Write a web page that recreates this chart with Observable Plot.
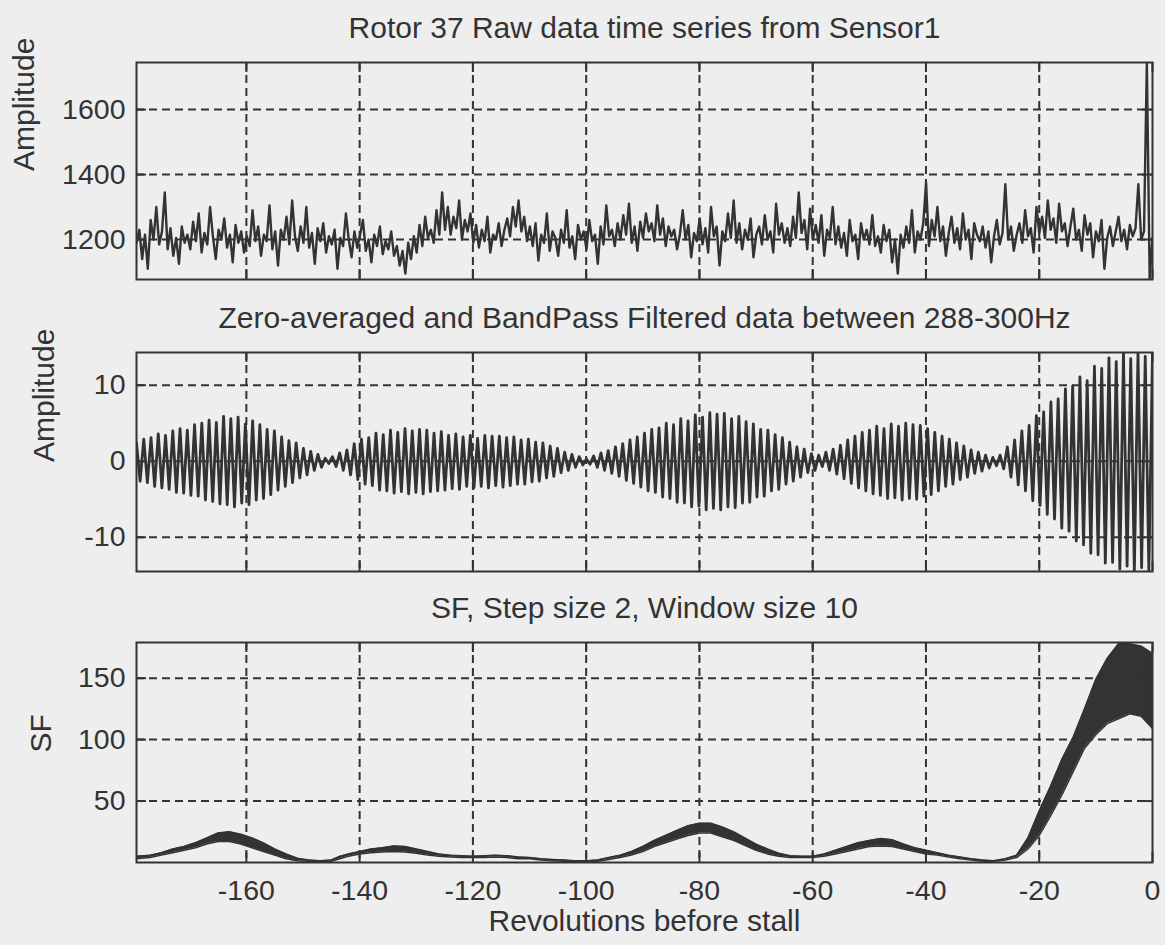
<!DOCTYPE html>
<html>
<head>
<meta charset="utf-8">
<script src="https://cdn.jsdelivr.net/npm/d3@7"></script>
<script src="https://cdn.jsdelivr.net/npm/@observablehq/plot@0.6"></script>
<style>
  html, body { margin: 0; padding: 0; background: #eeeeee; }
  #fig { position: relative; width: 1165px; height: 945px; background: #eeeeee; overflow: hidden; }
  #fig svg { position: absolute; left: 0; display: block; }
</style>
</head>
<body>
<div id="fig"></div>
<script>
const ink = "#333333";
const FONT = "'Liberation Sans', Arial, Helvetica, sans-serif";

// Shared x axis: revolutions before stall
const revStart = -179.4;
const revEnd = 0;
const revTicks = [-160, -140, -120, -100, -80, -60, -40, -20, 0];

const titles = [
  "Rotor 37 Raw data time series from Sensor1",
  "Zero-averaged and BandPass Filtered data between 288-300Hz",
  "SF, Step size 2, Window size 10"
];
const yLabels = ["Amplitude", "Amplitude", "SF"];
const xLabel = "Revolutions before stall";

// Panel 1: raw sensor samples, evenly spaced from revStart to revEnd
const rawAmplitude = [
  1190, 1230, 1140, 1215, 1110, 1260, 1200, 1300, 1185, 1225,
  1345, 1170, 1235, 1150, 1205, 1125, 1240, 1190, 1215, 1170,
  1255, 1195, 1280, 1160, 1220, 1185, 1300, 1210, 1140, 1230,
  1200, 1265, 1175, 1215, 1130, 1245, 1190, 1225, 1160, 1210,
  1180, 1290, 1195, 1240, 1150, 1215, 1195, 1305, 1170, 1225,
  1120, 1230, 1200, 1270, 1185, 1320, 1210, 1165, 1240, 1190,
  1300, 1175, 1220, 1125, 1235, 1195, 1250, 1160, 1210, 1185,
  1230, 1110, 1205, 1180, 1280, 1200, 1145, 1225, 1175, 1215,
  1260, 1165, 1200, 1130, 1215, 1180, 1240, 1155, 1195, 1170,
  1225, 1150, 1180, 1120, 1165, 1095, 1190, 1140, 1210, 1160,
  1245, 1180, 1270, 1205, 1230, 1190, 1290, 1215, 1345, 1230,
  1300, 1215, 1270, 1235, 1320, 1200, 1260, 1225, 1280, 1190,
  1245, 1175, 1230, 1195, 1270, 1160, 1215, 1200, 1250, 1180,
  1230, 1265, 1210, 1300, 1240, 1320, 1225, 1270, 1195, 1240,
  1180, 1250, 1135, 1215, 1190, 1280, 1165, 1225, 1205, 1150,
  1230, 1190, 1290, 1175, 1210, 1140, 1245, 1200, 1225, 1170,
  1260, 1195, 1215, 1125, 1240, 1185, 1305, 1210, 1230, 1180,
  1250, 1200, 1275, 1215, 1310, 1190, 1240, 1165, 1255, 1205,
  1280, 1225, 1250, 1195, 1305, 1215, 1265, 1180, 1240, 1210,
  1230, 1170, 1215, 1290, 1200, 1245, 1145, 1220, 1195, 1265,
  1185, 1235, 1160, 1300, 1210, 1240, 1120, 1225, 1195, 1280,
  1205, 1320, 1190, 1250, 1170, 1230, 1200, 1265, 1145, 1215,
  1240, 1185, 1275, 1200, 1225, 1160, 1310, 1215, 1250, 1190,
  1235, 1180, 1270, 1205, 1345, 1220, 1260, 1170, 1295, 1200,
  1245, 1190, 1275, 1150, 1230, 1205, 1300, 1185, 1240, 1175,
  1220, 1150, 1260, 1195, 1215, 1140, 1250, 1200, 1230, 1185,
  1275, 1180, 1210, 1160, 1245, 1195, 1230, 1130, 1200, 1095,
  1215, 1175, 1240, 1190, 1290, 1160, 1225, 1200, 1250, 1375,
  1180, 1260, 1210, 1300, 1195, 1240, 1150, 1220, 1270, 1190,
  1235, 1170, 1280, 1200, 1230, 1140, 1250, 1215, 1195, 1240,
  1175, 1225, 1130, 1210, 1260, 1185, 1220, 1370, 1200, 1240,
  1165, 1215, 1250, 1190, 1290, 1210, 1235, 1160, 1300, 1220,
  1270, 1205, 1320, 1230, 1265, 1190, 1310, 1225, 1250, 1180,
  1240, 1295, 1200, 1230, 1165, 1275, 1215, 1250, 1145, 1225,
  1195, 1260, 1110, 1205, 1240, 1180, 1225, 1270, 1195, 1230,
  1170, 1245, 1210, 1235, 1370, 1200, 1225, 1745, 1080, 1205
];
const rawTicks = [1200, 1400, 1600];
const rawDomain = [1077, 1745];

// Panel 2: band-passed signal, crest and trough of each cycle (alternating in time)
const bpCrests = [
  2.4, 2.9, 3.1, 3.6, 3.4, 4.0, 4.3, 4.1, 4.8, 5.0,
  5.4, 5.1, 5.9, 5.6, 5.8, 4.9, 5.3, 4.8, 4.2, 4.0,
  3.2, 2.7, 2.4, 1.7, 1.3, 0.9, 0.4, 0.6, 1.1, 1.5,
  2.3, 2.9, 3.1, 3.7, 3.5, 4.1, 3.8, 4.3, 4.0, 4.2,
  4.1, 3.7, 3.9, 3.4, 3.6, 3.2, 3.4, 3.0, 3.4, 3.3,
  3.3, 3.1, 3.2, 2.8, 2.9, 2.5, 2.4, 2.0, 1.7, 1.2,
  0.9, 0.6, 0.3, 0.7, 1.1, 1.4, 1.9, 2.3, 2.8, 3.2,
  3.7, 4.2, 4.4, 5.0, 4.8, 5.6, 5.3, 6.1, 5.8, 6.4,
  6.2, 6.3, 5.6, 5.9, 5.2, 4.9, 4.2, 4.1, 3.5, 3.1,
  2.5, 1.9, 1.6, 1.0, 0.8, 1.2, 1.6, 2.1, 2.8, 3.3,
  3.8, 4.1, 4.6, 4.3, 4.9, 4.6, 5.0, 4.8, 4.7, 4.3,
  3.8, 3.3, 2.9, 2.4, 2.0, 1.5, 1.2, 0.8, 0.5, 0.8,
  1.9, 2.8, 4.0, 4.7, 6.0, 6.5, 7.8, 8.2, 9.5, 9.9,
  11.1, 10.6, 12.5, 12.2, 13.6, 13.1, 14.2, 13.5, 14.3, 13.8,
  14.1
];
const bpTroughs = [
  -2.6, -2.8, -3.3, -3.5, -3.7, -4.1, -4.2, -4.5, -4.6, -5.1,
  -5.3, -5.6, -5.7, -6.0, -5.5, -5.7, -5.1, -4.9, -4.4, -3.8,
  -3.3, -2.8, -2.2, -1.8, -1.2, -0.8, -0.3, -0.7, -1.2, -1.8,
  -2.4, -3.0, -3.2, -3.8, -3.9, -4.2, -4.0, -4.3, -4.1, -4.3,
  -4.0, -3.9, -3.8, -3.6, -3.7, -3.3, -3.5, -3.3, -3.5, -3.2,
  -3.4, -3.2, -3.0, -3.0, -2.7, -2.6, -2.2, -2.0, -1.5, -1.2,
  -0.8, -0.5, -0.4, -0.8, -1.2, -1.6, -2.0, -2.5, -2.9, -3.4,
  -3.9, -4.1, -4.7, -4.9, -5.4, -5.5, -6.0, -5.9, -6.4, -6.2,
  -6.4, -6.0, -6.1, -5.5, -5.4, -4.7, -4.6, -3.9, -3.7, -3.0,
  -2.6, -2.1, -1.5, -1.2, -0.7, -1.2, -1.7, -2.3, -2.9, -3.5,
  -3.9, -4.3, -4.5, -4.9, -4.8, -5.1, -4.9, -5.0, -4.6, -4.4,
  -3.9, -3.3, -3.0, -2.4, -2.1, -1.6, -1.3, -0.9, -0.6, -1.0,
  -2.1, -3.1, -3.9, -5.2, -5.8, -7.0, -7.6, -8.8, -9.2, -10.5,
  -11.0, -12.1, -12.3, -13.4, -13.3, -14.2, -13.8, -14.5, -14.0, -14.4
];
const bpTicks = [-10, 0, 10];
const bpDomain = [-14.5, 14.3];

// Panel 3: SF band, lower and upper edge at each revolution
const sfRev = [
  -179.4, -177, -175, -173, -171, -169, -167, -165, -163, -161,
  -159, -157, -155, -153, -151, -149, -147, -145, -143.5, -142,
  -140, -138, -136, -134, -132, -130, -128, -126, -124, -122,
  -120, -118, -116, -114, -112, -110, -108, -106, -104, -102,
  -100, -98, -96, -94, -92, -90, -88, -86, -84, -82,
  -80, -78, -76, -74, -72, -70, -68, -66, -64, -62,
  -60, -58, -56, -54, -52, -50, -48, -46, -44, -42,
  -40, -38, -36, -34, -32, -30, -28, -26, -24, -22,
  -20, -18, -16, -14, -12, -10, -8, -6, -4, -2,
  0
];
const sfLow = [
  3, 4, 6, 8, 10, 12, 15, 17, 17, 15,
  12, 9, 6, 3, 1.5, 1, 1, 1, 3, 5,
  7, 8, 8.5, 9, 8.5, 7.5, 6, 5, 4.5, 4,
  4, 4, 4.5, 4, 3, 3, 2, 1.5, 1, 0.8,
  0.8, 1, 2.5, 4, 6, 9, 13, 16, 19, 22,
  24, 24, 21, 18, 14, 10, 7, 5, 4, 4,
  4, 5, 7, 9, 11, 13, 13.5, 13, 11, 9,
  7, 6, 4.5, 3, 2, 1, 1, 2, 4, 11,
  22, 38, 55, 74, 93, 104, 113, 117, 121, 119,
  109
];
const sfHigh = [
  5, 6, 8, 11, 13, 16, 20, 24, 25, 23,
  20, 16, 11, 7, 3.5, 2, 1.5, 2, 5, 7,
  9, 11, 12, 13.5, 13, 11, 9, 7, 6, 5.5,
  5, 5.5, 6, 5.5, 4.5, 4, 3, 2.5, 2, 1.5,
  1.5, 2, 4, 6, 9, 13, 18, 22, 26, 30,
  32, 32, 29, 25, 20, 15, 11, 7.5, 5.5, 5,
  5, 7, 10, 13, 16, 18, 19.5, 18.5, 15, 12,
  10, 8, 6, 4.5, 3, 2, 1.5, 3, 6, 20,
  42, 62, 84, 102, 125, 149, 166, 178, 178, 176,
  170
];
const sfTicks = [50, 100, 150];
const sfDomain = [0, 179];

// ---- tables built from the arrays above ----
const rawStep = (revEnd - revStart) / (rawAmplitude.length - 1);
const rawRows = rawAmplitude.map((v, i) => ({rev: revStart + i * rawStep, v}));

const bpSeq = [];
bpTroughs.forEach((t, i) => { bpSeq.push(bpCrests[i], t); });
bpSeq.push(bpCrests[bpCrests.length - 1]);
const bpStep = (revEnd - revStart) / (bpSeq.length - 1);
const bpRows = bpSeq.map((v, i) => ({rev: revStart + i * bpStep, v}));

const sfRows = sfRev.map((r, i) => ({rev: r, low: sfLow[i], high: sfHigh[i]}));

// ---- one MATLAB-style subplot ----
const W = 1165, ML = 136, MR = 13;
const fmt = d => String(d);

function panel({top, height, marginTop, marginBottom, yDomain, yTicks, title, ylabel, ylabelDx, data, showX}) {
  const fw = W - ML - MR;
  const fh = height - marginTop - marginBottom;
  const grid = {stroke: ink, strokeOpacity: 1, strokeWidth: 2, strokeDasharray: "8,5"};
  const tick = {stroke: ink, strokeOpacity: 1, strokeWidth: 2};
  const marks = [
    Plot.gridX(revTicks.slice(0, -1), grid),
    Plot.gridY(yTicks, grid),
    ...data,
    Plot.tickX(revTicks, {x: d => d, ...tick, insetTop: fh - 10}),
    Plot.tickX(revTicks, {x: d => d, ...tick, insetBottom: fh - 10}),
    Plot.tickY(yTicks, {y: d => d, ...tick, insetRight: fw - 10}),
    Plot.tickY(yTicks, {y: d => d, ...tick, insetLeft: fw - 10}),
    Plot.frame({stroke: ink, strokeWidth: 2}),
    Plot.axisY(yTicks, {label: null, tickSize: 0, tickPadding: 11, tickFormat: fmt, fontSize: 28.5, fill: ink}),
    Plot.text([title], {frameAnchor: "top", dy: -25, lineAnchor: "bottom", fontSize: 30, fill: ink}),
    Plot.text([ylabel], {frameAnchor: "left", dx: ylabelDx, rotate: -90, lineAnchor: "bottom", fontSize: 30, fill: ink})
  ];
  if (showX) {
    marks.push(Plot.axisX(revTicks, {label: null, tickSize: 0, tickPadding: 17, tickFormat: fmt, fontSize: 28.5, fill: ink}));
    marks.push(Plot.text([xLabel], {frameAnchor: "bottom", dy: 68, lineAnchor: "bottom", fontSize: 30, fill: ink}));
  }
  const svg = Plot.plot({
    width: W, height, marginLeft: ML, marginRight: MR, marginTop, marginBottom,
    style: {background: "transparent", fontFamily: FONT, color: ink, overflow: "visible"},
    x: {domain: [revStart, revEnd], axis: null},
    y: {domain: yDomain, axis: null},
    marks
  });
  svg.style.top = top + "px";
  return svg;
}

const fig = document.getElementById("fig");

fig.appendChild(panel({
  top: 0, height: 300, marginTop: 62, marginBottom: 21,
  yDomain: rawDomain, yTicks: rawTicks, title: titles[0], ylabel: yLabels[0], ylabelDx: -103,
  data: [Plot.line(rawRows, {x: "rev", y: "v", stroke: ink, strokeWidth: 2.4, clip: true})]
}));

fig.appendChild(panel({
  top: 300, height: 290, marginTop: 52, marginBottom: 19,
  yDomain: bpDomain, yTicks: bpTicks, title: titles[1], ylabel: yLabels[1], ylabelDx: -83,
  data: [Plot.line(bpRows, {x: "rev", y: "v", stroke: ink, strokeWidth: 2.8, clip: true})]
}));

fig.appendChild(panel({
  top: 590, height: 355, marginTop: 52, marginBottom: 83,
  yDomain: sfDomain, yTicks: sfTicks, title: titles[2], ylabel: yLabels[2], ylabelDx: -86,
  showX: true,
  data: [
    Plot.areaY(sfRows, {x: "rev", y1: "low", y2: "high", fill: ink, clip: true}),
    Plot.line(sfRows, {x: "rev", y: "low", stroke: ink, strokeWidth: 1.5, clip: true}),
    Plot.line(sfRows, {x: "rev", y: "high", stroke: ink, strokeWidth: 1.5, clip: true})
  ]
}));
</script>
</body>
</html>
